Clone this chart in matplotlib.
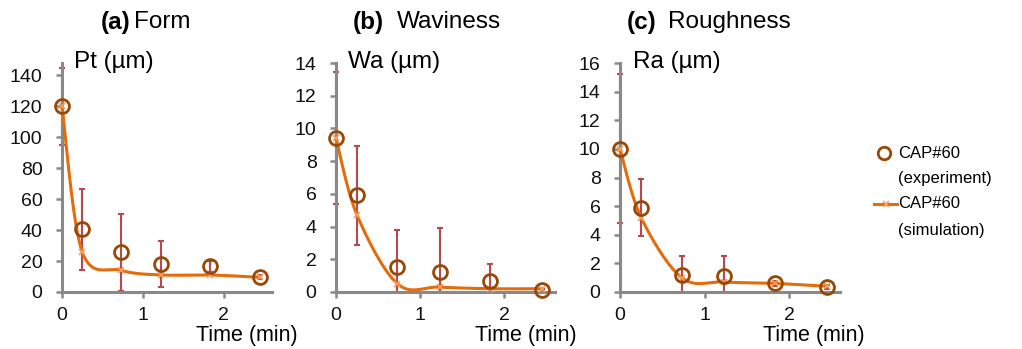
import matplotlib
matplotlib.use("Agg")
import matplotlib.pyplot as plt
import numpy as np

plt.rcParams['font.family'] = ['Liberation Sans', 'DejaVu Sans']

# time points (min)
time = [0, 0.25, 0.73, 1.23, 1.83, 2.45]

# (a) Form, Pt
pt_exp = [120, 40.5, 25.6, 18, 16.5, 9.5]
pt_err = [25, 26, 25, 15, 3.3, 1.2]
pt_sim = [120, 26, 14, 11, 11, 9.5]

# (b) Waviness, Wa
wa_exp = [9.4, 5.9, 1.5, 1.2, 0.7, 0.1]
wa_err = [4.05, 3.0, 2.3, 2.7, 1.0, 0.1]
wa_sim = [9.4, 4.7, 0.5, 0.3, 0.2, 0.2]

# (c) Roughness, Ra
ra_exp = [10.0, 5.9, 1.2, 1.1, 0.6, 0.35]
ra_err = [5.2, 2.0, 1.3, 1.4, 0.2, 0.15]
ra_sim = [10.0, 5.2, 1.0, 0.7, 0.6, 0.4]

panel_titles = [("(a)", "Form"), ("(b)", "Waviness"), ("(c)", "Roughness")]
y_labels = ["Pt (µm)", "Wa (µm)", "Ra (µm)"]
y_maxes = [148, 14, 16]
y_steps = [20, 2, 2]

ORANGE = "#E46C0A"
BROWN = "#984807"
ERR = "#B9484E"
GREY = "#898989"
W, H = 1022, 349


def excel_smooth(x, y, n=30):
    # bezier smoothing like a spreadsheet "smoothed line"
    x = np.asarray(x, float)
    y = np.asarray(y, float)
    pts = np.column_stack([x, y])
    out = []
    for i in range(len(pts) - 1):
        p0 = pts[max(i - 1, 0)]
        p1 = pts[i]
        p2 = pts[i + 1]
        p3 = pts[min(i + 2, len(pts) - 1)]
        c1 = p1 + (p2 - p0) / 6
        c2 = p2 - (p3 - p1) / 6
        t = np.linspace(0, 1, n)[:, None]
        seg = ((1 - t) ** 3) * p1 + 3 * ((1 - t) ** 2) * t * c1 + 3 * (1 - t) * t ** 2 * c2 + t ** 3 * p2
        out.append(seg if i == 0 else seg[1:])
    out = np.vstack(out)
    return out[:, 0], out[:, 1]


fig = plt.figure(figsize=(W / 100, H / 100), dpi=100)

# axis boxes in pixels: left, right, top
boxes = [(62, 272, 63), (336, 555, 63), (620, 840, 63)]
bottom_px = 292
title_pos = [(101, 134), (353, 397), (627, 668)]
ylab_x = [74, 348, 633]
time_x = [196, 475, 763]

data = [(pt_exp, pt_err, pt_sim), (wa_exp, wa_err, wa_sim), (ra_exp, ra_err, ra_sim)]

for k, (exp, err, sim) in enumerate(data):
    l, r, t = boxes[k]
    ax = fig.add_axes([l / W, 1 - bottom_px / H, (r - l) / W, (bottom_px - t) / H])
    ax.set_xlim(0, 2.6)
    ax.set_ylim(0, y_maxes[k])
    ax.set_xticks([0, 1, 2])
    ax.set_yticks(np.arange(0, y_maxes[k] + 0.01, y_steps[k]))
    ax.spines['top'].set_visible(False)
    ax.spines['right'].set_visible(False)
    for s in ['left', 'bottom']:
        ax.spines[s].set_color(GREY)
        ax.spines[s].set_linewidth(2.2)
    ax.tick_params(direction='out', length=4, width=1.8, color=GREY,
                   labelsize=14, labelcolor='#111111')
    ax.tick_params(axis='y', pad=10)
    ax.tick_params(axis='x', pad=7)

    lo = np.minimum(err, exp)
    ax.errorbar(time, exp, yerr=[lo, err], fmt='none', ecolor=ERR,
                elinewidth=1.5, capsize=2.5, capthick=1.5, zorder=2, clip_on=False)
    sx, sy = excel_smooth(time, sim)
    ax.plot(sx, sy, color=ORANGE, lw=2.2, zorder=3, clip_on=False)
    ax.plot(time, sim, 'x', color="#F0A060", ms=5, mew=1.2, zorder=3, clip_on=False)
    ax.plot(time, exp, 'o', mfc='none', mec=BROWN, ms=10, mew=2, zorder=4, clip_on=False)

    tb, tn = title_pos[k]
    fig.text(tb / W, 1 - 22 / H, panel_titles[k][0], fontsize=17.5, fontweight='bold',
             ha='left', va='center')
    fig.text(tn / W, 1 - 22 / H, panel_titles[k][1], fontsize=17.5, ha='left', va='center')
    fig.text(ylab_x[k] / W, 1 - 62 / H, y_labels[k], fontsize=17.5, ha='left', va='center')
    fig.text(time_x[k] / W, 1 - 336 / H, "Time (min)", fontsize=15.5, ha='left', va='center')

# legend drawn by hand at right
lax = fig.add_axes([0, 0, 1, 1], facecolor='none')
lax.set_xlim(0, W)
lax.set_ylim(H, 0)
lax.axis('off')
lax.plot([884], [153], 'o', mfc='none', mec=BROWN, ms=9, mew=2)
lax.plot([874, 897], [204, 204], color=ORANGE, lw=2.2)
lax.plot([886], [204], 'x', color="#F0A060", ms=5, mew=1.2)
lax.text(898, 153, "CAP#60", fontsize=12, ha='left', va='center')
lax.text(898, 179, "(experiment)", fontsize=12, ha='left', va='center')
lax.text(898, 204, "CAP#60", fontsize=12, ha='left', va='center')
lax.text(898, 230, "(simulation)", fontsize=12, ha='left', va='center')

fig.savefig("out.png", dpi=100)
